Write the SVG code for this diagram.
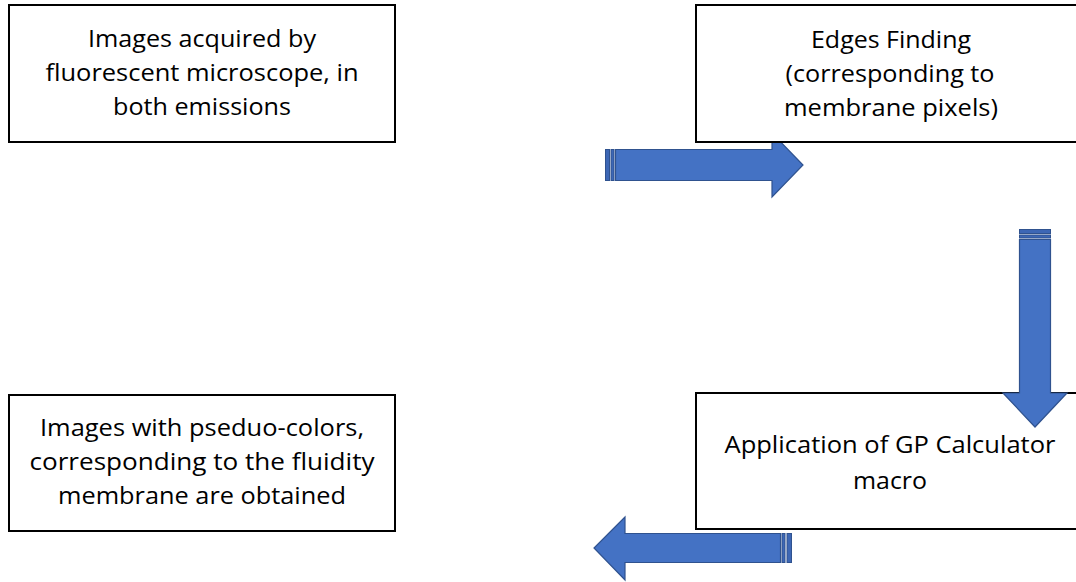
<svg xmlns="http://www.w3.org/2000/svg" width="1076" height="582" viewBox="0 0 1076 582">
<style>
.box{fill:#ffffff;stroke:#000000;stroke-width:2}
.arr{fill:#4472C4;stroke:#2F528F;stroke-width:1.2;stroke-linejoin:miter}
.stripe{fill:#3D67B5;stroke:#2F528F;stroke-width:1}
.t{font-family:"Open Sans","Noto Sans","Liberation Sans",sans-serif;font-size:24px;fill:#000000;text-anchor:middle}
</style>
<rect width="1076" height="582" fill="#ffffff"/>
<g id="connectors">
<g id="arrow-right">
<rect class="stripe" x="605.5" y="149.5" width="4" height="31"/>
<rect class="stripe" x="611" y="149.5" width="3" height="31"/>
<path class="arr" d="M615.5,149.5 H772 V133 L803,165 L772,197 V180.5 H615.5 Z"/>
</g>
</g>
<g id="node1">
<rect class="box" x="9" y="5" width="386" height="137"/>
<text class="t" x="202" y="47" textLength="228" lengthAdjust="spacingAndGlyphs">Images acquired by</text>
<text class="t" x="202" y="81" textLength="313" lengthAdjust="spacingAndGlyphs">fluorescent microscope, in</text>
<text class="t" x="202" y="115" textLength="178" lengthAdjust="spacingAndGlyphs">both emissions</text>
</g>
<g id="node2">
<rect class="box" x="696" y="5" width="390" height="137"/>
<text class="t" x="891" y="48" textLength="160" lengthAdjust="spacingAndGlyphs">Edges Finding</text>
<text class="t" x="890" y="82" textLength="209" lengthAdjust="spacingAndGlyphs">(corresponding to</text>
<text class="t" x="891" y="116" textLength="214" lengthAdjust="spacingAndGlyphs">membrane pixels)</text>
</g>
<g id="node3">
<rect class="box" x="696" y="393" width="390" height="136"/>
<text class="t" x="890" y="453" textLength="331" lengthAdjust="spacingAndGlyphs">Application of GP Calculator</text>
<text class="t" x="890" y="489" textLength="74" lengthAdjust="spacingAndGlyphs">macro</text>
</g>
<g id="node4">
<rect class="box" x="9" y="395" width="386" height="136"/>
<text class="t" x="202" y="436" textLength="324" lengthAdjust="spacingAndGlyphs">Images with pseduo-colors,</text>
<text class="t" x="202" y="470" textLength="345" lengthAdjust="spacingAndGlyphs">corresponding to the fluidity</text>
<text class="t" x="202" y="504" textLength="288" lengthAdjust="spacingAndGlyphs">membrane are obtained</text>
</g>
<g id="connectors-top">
<g id="arrow-down">
<rect class="stripe" x="1019.5" y="229.5" width="31" height="4"/>
<rect class="stripe" x="1019.5" y="235" width="31" height="3"/>
<path class="arr" d="M1019.5,239.5 H1050.5 V393 H1067 L1035,427 L1003,393 H1019.5 Z"/>
</g>
<g id="arrow-left">
<rect class="stripe" x="782" y="533.5" width="3" height="29"/>
<rect class="stripe" x="787" y="533.5" width="4.5" height="29"/>
<path class="arr" d="M780.5,533.5 V562.5 H625 V580 L594,548 L625,517 V533.5 Z"/>
</g>
</g>
</svg>
